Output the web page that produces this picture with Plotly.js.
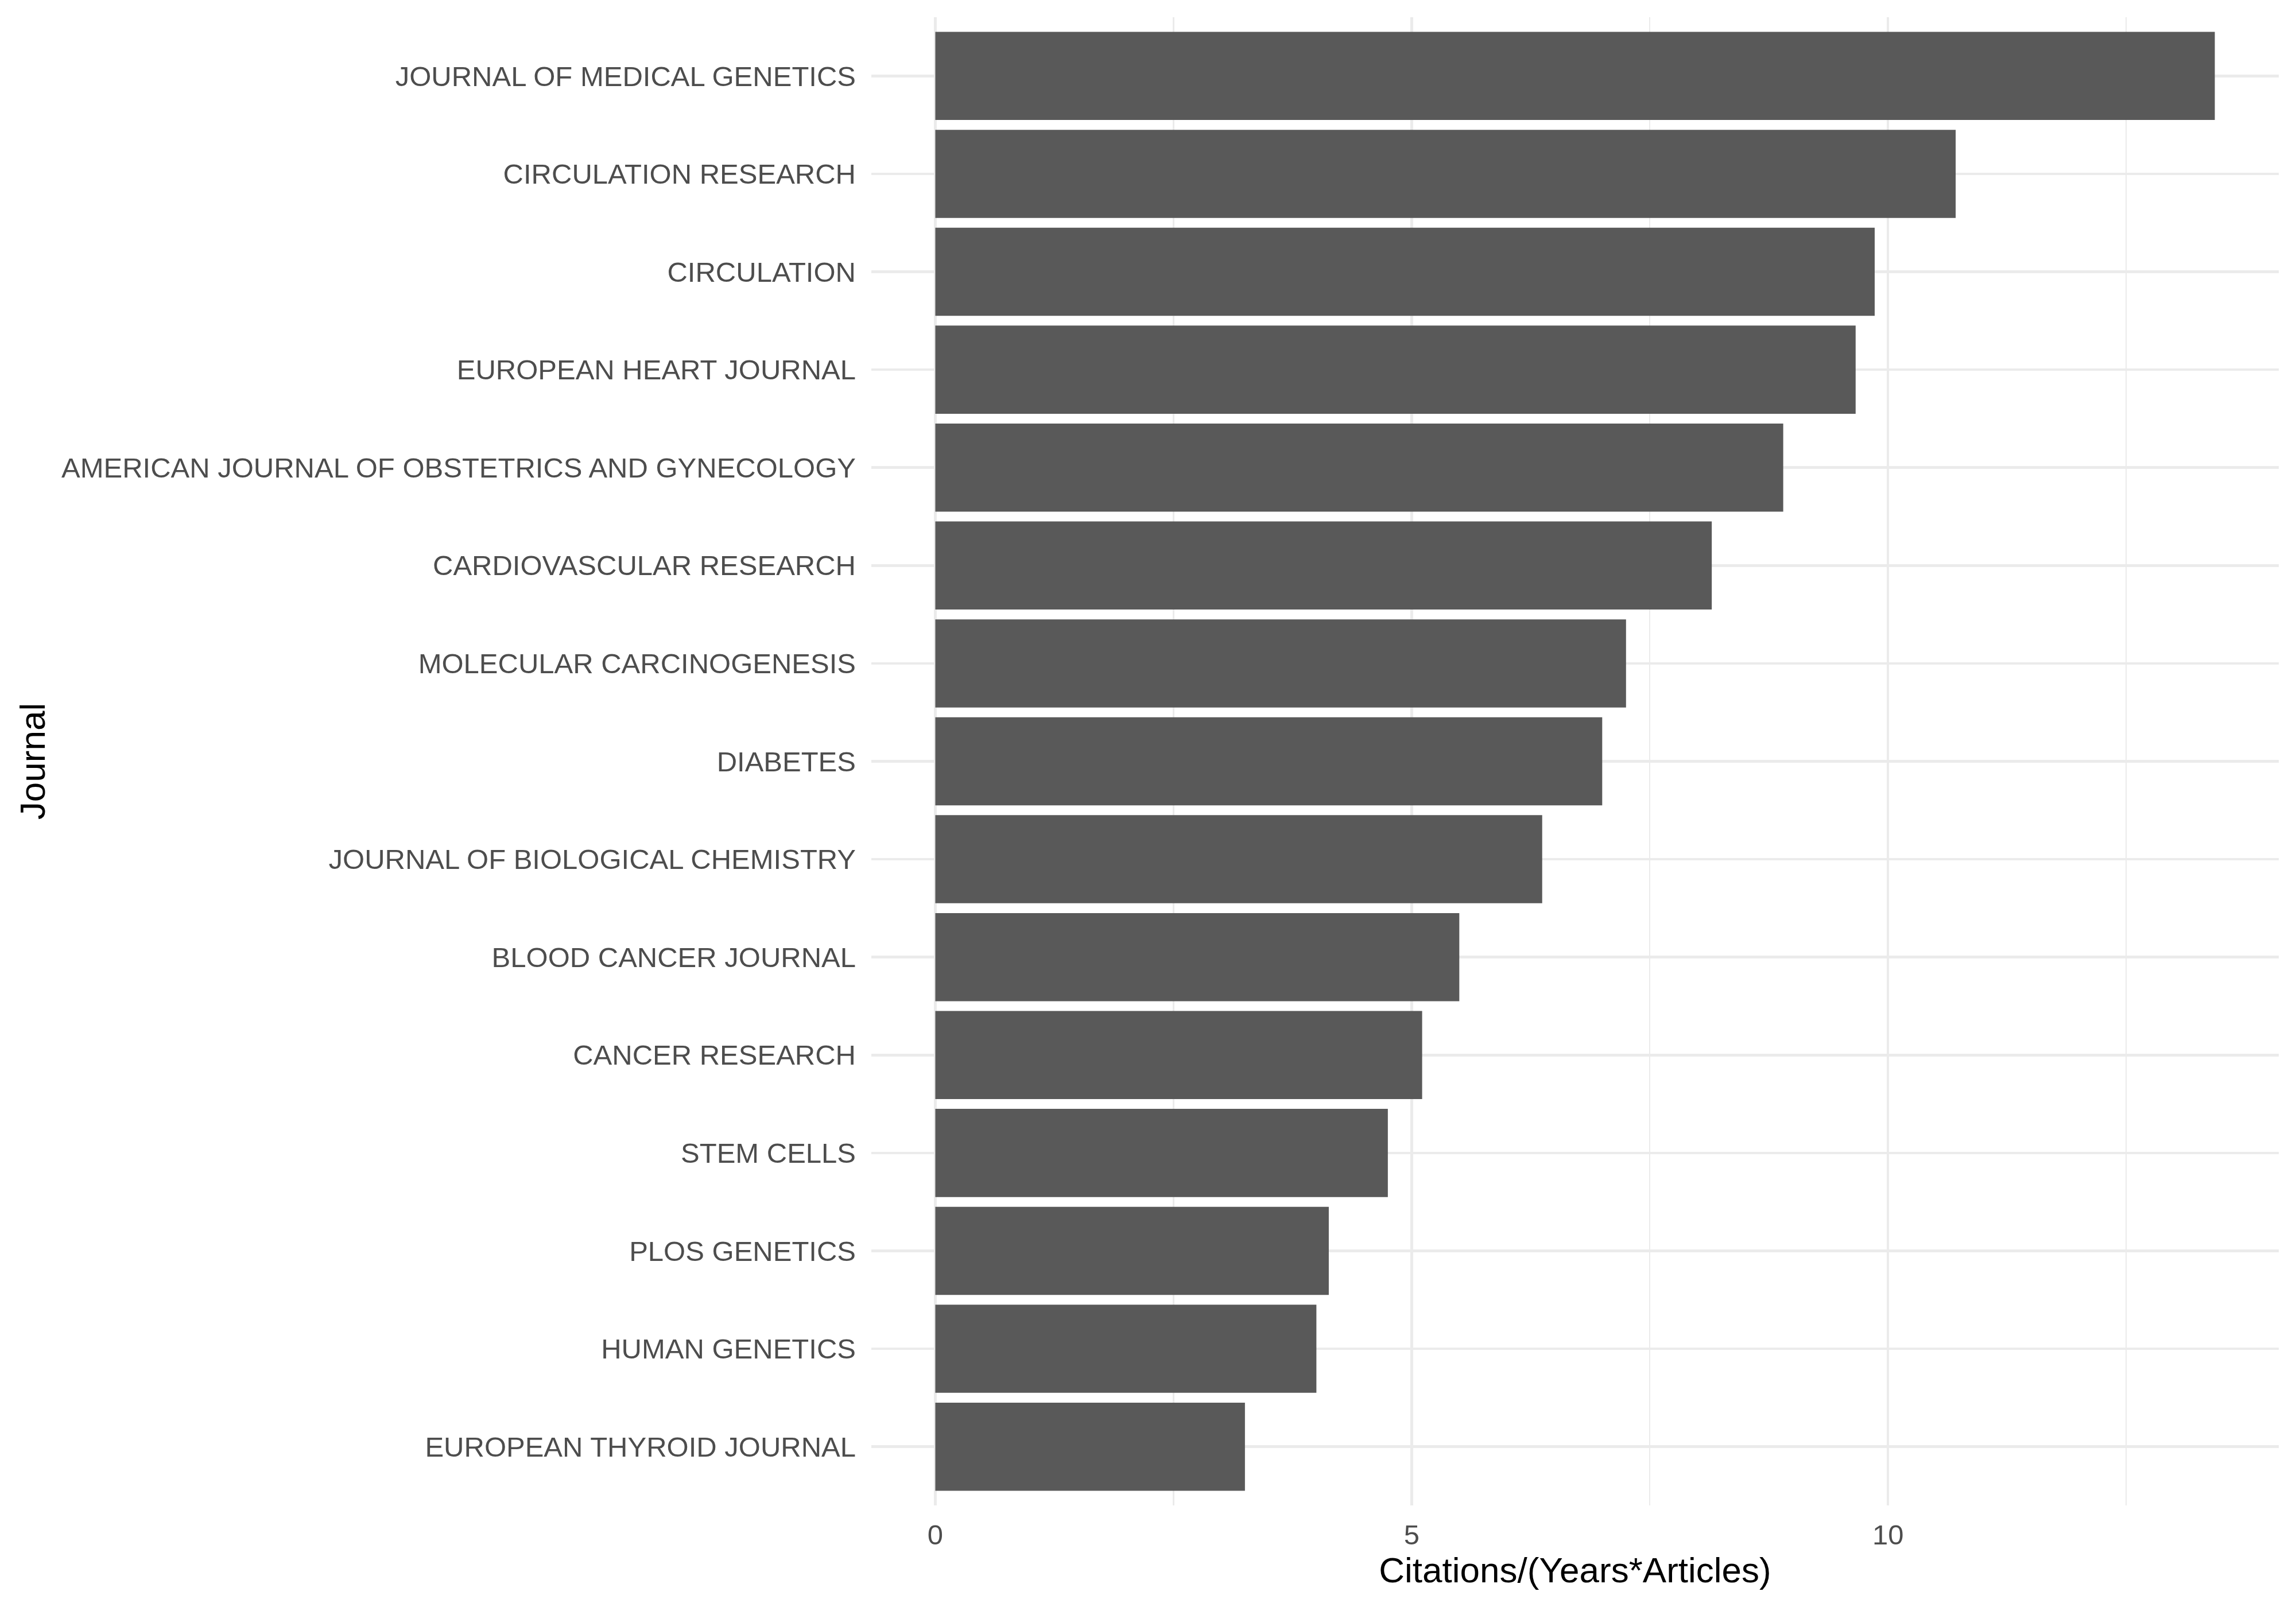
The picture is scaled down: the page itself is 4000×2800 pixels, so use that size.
<!DOCTYPE html>
<html>
<head>
<meta charset="utf-8">
<script src="https://cdn.plot.ly/plotly-3.0.1.min.js"></script>
<style>
  body { margin: 0; background: #fff; }
  #chart { width: 4000px; height: 2800px; }
</style>
</head>
<body>
<div id="chart"></div>
<script>
// journals, top to bottom as in the picture
var journals = [
    'JOURNAL OF MEDICAL GENETICS',
    'CIRCULATION RESEARCH',
    'CIRCULATION',
    'EUROPEAN HEART JOURNAL',
    'AMERICAN JOURNAL OF OBSTETRICS AND GYNECOLOGY',
    'CARDIOVASCULAR RESEARCH',
    'MOLECULAR CARCINOGENESIS',
    'DIABETES',
    'JOURNAL OF BIOLOGICAL CHEMISTRY',
    'BLOOD CANCER JOURNAL',
    'CANCER RESEARCH',
    'STEM CELLS',
    'PLOS GENETICS',
    'HUMAN GENETICS',
    'EUROPEAN THYROID JOURNAL'
];
// citations per (years * articles)
var citationRate = [13.43, 10.71, 9.86, 9.66, 8.90, 8.15, 7.25, 7.00, 6.37, 5.50, 5.11, 4.75, 4.13, 4.00, 3.25];
var xTicks = [0, 5, 10];
var xMinorTicks = [2.5, 7.5, 12.5];

var gridGrey = '#EBEBEB';
var textGrey = '#4D4D4D';
var font = 'Liberation Sans, Arial, sans-serif';

var trace = {
    type: 'bar',
    orientation: 'h',
    x: citationRate,
    y: journals,
    marker: { color: '#595959', line: { width: 0 } },
    hoverinfo: 'none'
};

// ggplot-style 5% expansion around [0, max]
var xmax = Math.max.apply(null, citationRate);
var pad = xmax * 0.05;

var layout = {
    width: 4000,
    height: 2800,
    margin: { l: 1518, r: 30, t: 30, b: 177 },
    paper_bgcolor: '#ffffff',
    plot_bgcolor: '#ffffff',
    bargap: 0.1,
    showlegend: false,
    font: { family: font, color: textGrey },
    xaxis: {
        range: [-pad, xmax + pad],
        tickvals: xTicks,
        ticktext: xTicks.map(String),
        showgrid: true,
        gridcolor: gridGrey,
        gridwidth: 4.5,
        minor: { tickvals: xMinorTicks, showgrid: true, gridcolor: gridGrey, gridwidth: 2.3 },
        zeroline: false,
        showline: false,
        ticks: '',
        ticklabelstandoff: 18,
        tickfont: { family: font, size: 49, color: textGrey },
        automargin: false,
        title: {
            text: 'Citations/(Years*Articles)',
            font: { family: font, size: 62, color: '#000000' },
            standoff: 12
        }
    },
    yaxis: {
        type: 'category',
        categoryorder: 'array',
        categoryarray: journals,
        range: [journals.length - 0.4, -0.6],
        showgrid: true,
        gridcolor: gridGrey,
        gridwidth: 4.5,
        zeroline: false,
        showline: false,
        ticks: '',
        ticklabelstandoff: 26,
        tickfont: { family: font, size: 49, color: textGrey },
        automargin: false,
        title: {
            text: 'Journal',
            font: { family: font, size: 62, color: '#000000' },
            standoff: 8
        }
    }
};

Plotly.newPlot('chart', [trace], layout, { displayModeBar: false, staticPlot: true });
</script>
</body>
</html>
